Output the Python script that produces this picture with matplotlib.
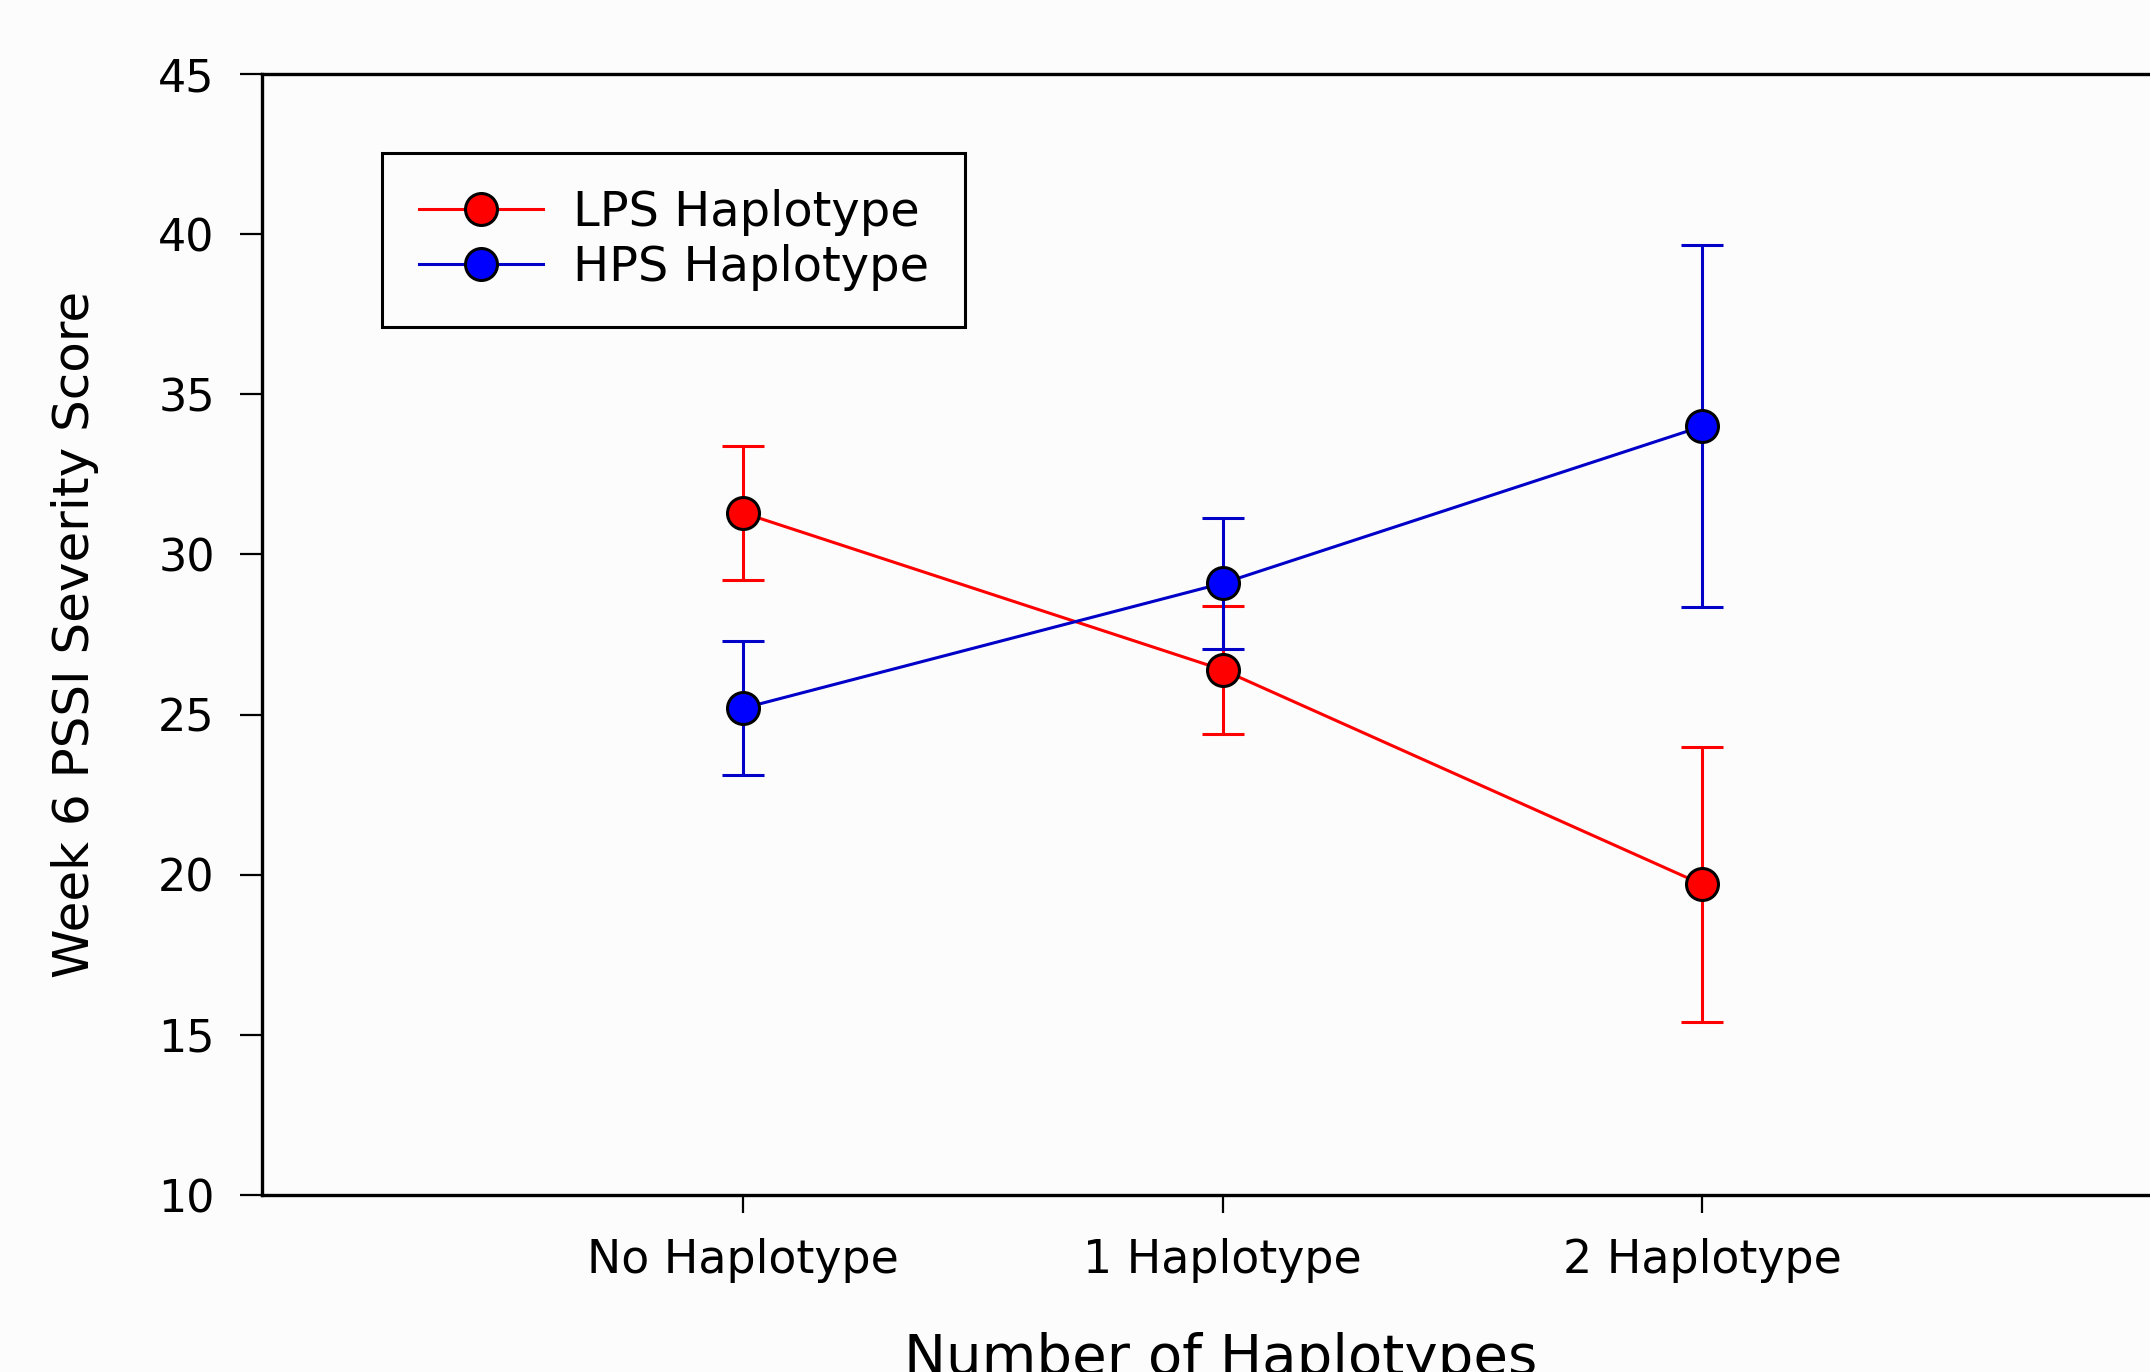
import matplotlib
matplotlib.use("Agg")
import matplotlib.pyplot as plt
from matplotlib.lines import Line2D

# =====================================================
# Data
# =====================================================
categories = ["No Haplotype", "1 Haplotype", "2 Haplotype"]
x_pos = [0, 1, 2]

lps_mean = [31.3, 26.4, 19.7]
lps_err = [2.1, 2.0, 4.3]

hps_mean = [25.2, 29.1, 34.0]
hps_err = [2.1, 2.05, 5.65]

y_ticks = [10, 15, 20, 25, 30, 35, 40, 45]

RED = "#ff0000"
BLUE_LINE = "#0000c8"
BLUE_MARK = "#0000ff"
BG = "#fcfcfc"

plt.rcParams["font.family"] = ["DejaVu Sans"]

fig = plt.figure(figsize=(21.5, 13.72), dpi=100, facecolor=BG)
ax = fig.add_axes([0.1219, 0.129, 0.8781, 0.817], facecolor=BG)

marker_style = dict(marker="o", markersize=23, markeredgecolor="black",
                    markeredgewidth=2.2, linewidth=2.2)
bar_style = dict(capsize=15, capthick=2.2, elinewidth=2.2)

ax.errorbar(x_pos, lps_mean, yerr=lps_err, color=RED, ecolor=RED,
            markerfacecolor=RED, zorder=3, **marker_style, **bar_style)
ax.errorbar(x_pos, hps_mean, yerr=hps_err, color=BLUE_LINE, ecolor=BLUE_LINE,
            markerfacecolor=BLUE_MARK, zorder=4, **marker_style, **bar_style)

ax.set_xlim(-1.003, 2.934)
ax.set_ylim(10, 45)
ax.set_yticks(y_ticks)
ax.set_xticks(x_pos)
ax.set_xticklabels(categories)

ax.spines["right"].set_visible(False)
for side in ["left", "top", "bottom"]:
    ax.spines[side].set_linewidth(2.4)
    ax.spines[side].set_color("black")

ax.tick_params(axis="y", direction="out", length=16, width=1.6,
               labelsize=32, pad=18)
ax.tick_params(axis="x", direction="out", length=13, width=1.6,
               labelsize=33, pad=18)

ax.set_ylabel("Week 6 PSSI Severity Score", fontsize=36, va="center")
ax.yaxis.set_label_coords(-0.099, 0.5)
ax.set_xlabel("Number of Haplotypes", fontsize=40.5, va="center")
ax.xaxis.set_label_coords(0.508, -0.146)

# legend shows line + marker only (no error bars)
handles = [
    Line2D([], [], color=RED, markerfacecolor=RED, **marker_style),
    Line2D([], [], color=BLUE_LINE, markerfacecolor=BLUE_MARK, **marker_style),
]
leg = ax.legend(handles, ["LPS Haplotype", "HPS Haplotype"],
                loc="upper left", bbox_to_anchor=(0.0636, 0.930),
                borderaxespad=0, fontsize=34.5, numpoints=1,
                handlelength=2.6, handletextpad=0.62, borderpad=0.76,
                labelspacing=0.16, fancybox=False, framealpha=1,
                edgecolor="black", facecolor=BG)
leg.get_frame().set_linewidth(2.2)

fig.savefig("out.png", dpi=100, facecolor=BG)
